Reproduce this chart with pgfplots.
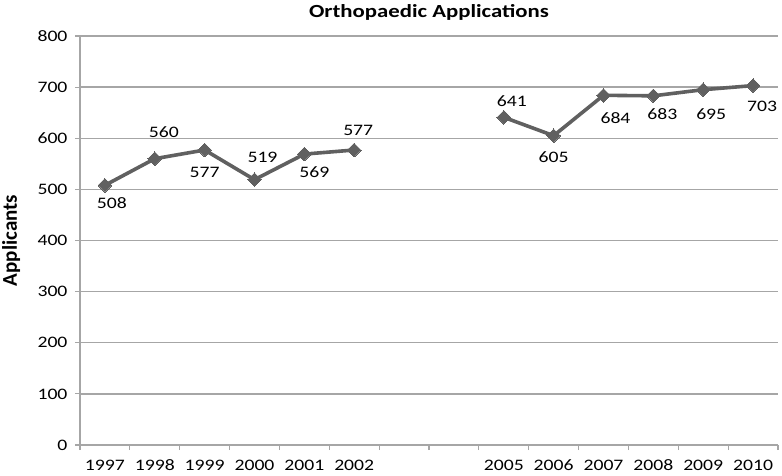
\documentclass[border=0pt]{standalone}
\usepackage{pgfplots}
\pgfplotsset{compat=1.18}
\usepackage{pgfplotstable}
\usepackage{fontspec}
\setmainfont{Carlito}[FakeStretch=1.23]
\newfontfamily\plainfont{Carlito}

\definecolor{linegray}{HTML}{606060}
\definecolor{gridgray}{HTML}{A6A6A6}

% x = category index (2003 and 2004 are empty), dx/dy = label offset in pt
\pgfplotstableread{
x  y   lbl dx dy
0  508 508 7  -18
1  560 560 9  27
2  577 577 0  -22
3  519 519 8  22
4  569 569 10 -18
5  577 577 4  20
6  nan 0   0  0
7  nan 0   0  0
8  641 641 8  16
9  605 605 0  -21
10 684 684 12 -23
11 683 683 9  -18
12 695 695 8  -24
13 703 703 9  -21
}\apps

\begin{document}
\begin{tikzpicture}
\begin{axis}[
    scale only axis,
    width=698pt, height=409pt,
    xmin=-0.5, xmax=13.5,
    ymin=0, ymax=800,
    ytick={0,100,...,800},
    xtick={0,...,13},
    xticklabels={1997,1998,1999,2000,2001,2002,,,2005,2006,2007,2008,2009,2010},
    minor xtick={-0.5,0.5,...,13.5},
    major x tick style={draw=none},
    axis lines*=left,
    axis line style={gridgray, line width=1.3pt},
    tick align=outside,
    tick style={gridgray, line width=1.2pt},
    major tick length=5pt, minor tick length=5pt,
    ymajorgrids,
    grid style={gridgray, line width=1.3pt},
    /pgf/number format/assume math mode=true,
    ticklabel style={font=\fontsize{16}{18}\selectfont},
    yticklabel style={xshift=-4pt},
    xticklabel style={yshift=-8pt, anchor=base, yshift=-12pt},
    title={Orthopaedic Applications},
    title style={font=\bfseries\fontsize{18.5}{20}\selectfont, at={(0.5,1)}, anchor=center, yshift=18pt},
    ylabel={Applicants},
    ylabel style={font=\plainfont\bfseries\fontsize{21}{23}\selectfont, at={(axis description cs:-0.0985,0.5)}, anchor=center},
    unbounded coords=jump,
    clip=false,
]
\addplot[
    color=linegray, line width=3.6pt,
    mark=square*, mark size=4.8pt, mark options={fill=linegray, line width=0pt, rotate=45},
    nodes near coords,
    point meta=explicit symbolic,
    visualization depends on={\thisrow{dx} \as \dx},
    visualization depends on={\thisrow{dy} \as \dy},
    every node near coord/.append style={anchor=center, rotate=0, font=\fontsize{16}{18}\selectfont, text=black, xshift=\dx*1pt, yshift=\dy*1pt},
] table[x=x, y=y, meta=lbl] {\apps};
\end{axis}
\pgfresetboundingbox
\path (-80pt,-30pt) rectangle (702pt,445pt);
\end{tikzpicture}
\end{document}
